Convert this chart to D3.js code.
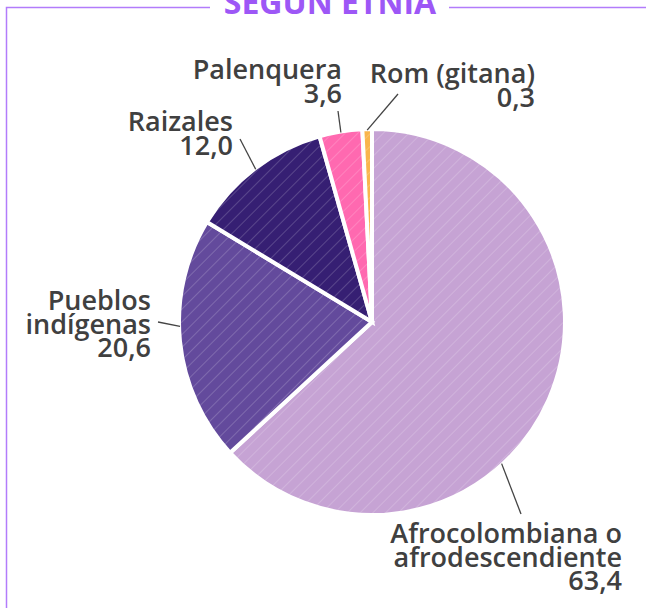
<!DOCTYPE html>
<html lang="es">
<head>
<meta charset="utf-8">
<script src="https://d3js.org/d3.v7.min.js"></script>
<style>
  html, body { margin: 0; padding: 0; background: #fff; }
  svg { display: block; }
  .lbl { font-family: "Open Sans", sans-serif; font-weight: 600; font-size: 27px; fill: #404040; }
  .title { font-family: "Open Sans", sans-serif; font-weight: 700; font-size: 32px; fill: #9d57f6; }
</style>
</head>
<body>
<svg width="646" height="608"></svg>
<script>
// data
var categories = ["Afrocolombiana o afrodescendiente", "Pueblos indígenas", "Raizales", "Palenquera", "Rom (gitana)"];
var values = [63.4, 20.6, 12.0, 3.6, 0.3];
var labelLines = [
  ["Afrocolombiana o", "afrodescendiente", "63,4"],
  ["Pueblos", "indígenas", "20,6"],
  ["Raizales", "12,0"],
  ["Palenquera", "3,6"],
  ["Rom (gitana)", "0,3"]
];
var colors = ["#c6a3d4", "#634a9c", "#361f73", "#ff69b0", "#f9b54c"];

// layout for labels: text anchor, leader end, where the leader meets the slice (0..1 of the slice)
var labelPos = [
  { x: 622, y: 543, lx: 521, ly: 514, t: 0.605 },
  { x: 151, y: 310, lx: 158, ly: 322, t: 0.56 },
  { x: 233, y: 131, lx: 240, ly: 139, t: 0.5 },
  { x: 342, y: 79,  lx: 338, ly: 111, t: 0.5 },
  { x: 535, y: 83,  lx: 398, ly: 94,  t: 0.5 }
];

var svg = d3.select("svg");
var cx = 372, cy = 322, radius = 193;
var minShare = 0.8; // keep tiny slices visible

// frame + title
var frameColor = "#b27cfb";
svg.append("path")
  .attr("d", "M6.5,608 L6.5,7.5 L210,7.5")
  .attr("fill", "none").attr("stroke", frameColor).attr("stroke-width", 1.5);
svg.append("path")
  .attr("d", "M449,7.5 L646,7.5")
  .attr("fill", "none").attr("stroke", frameColor).attr("stroke-width", 1.5);
svg.append("text")
  .attr("class", "title")
  .attr("x", 330).attr("y", 14)
  .attr("text-anchor", "middle")
  .text("SEGÚN ETNIA");

// hatch pattern
var defs = svg.append("defs");
defs.append("pattern")
  .attr("id", "hatch")
  .attr("patternUnits", "userSpaceOnUse")
  .attr("width", 9).attr("height", 9)
  .attr("patternTransform", "rotate(45)")
  .append("line")
  .attr("x1", 0).attr("y1", 0).attr("x2", 0).attr("y2", 9)
  .attr("stroke", "#fff").attr("stroke-opacity", 0.3).attr("stroke-width", 1.2);

var data = categories.map(function (c, i) { return { name: c, value: values[i], i: i }; });

var pie = d3.pie()
  .sort(null)
  .value(function (d) { return Math.max(d.value, minShare); });
var arcs = pie(data);

var arc = d3.arc().innerRadius(0).outerRadius(radius);

var g = svg.append("g").attr("transform", "translate(" + cx + "," + cy + ")");

var slices = g.selectAll(".slice")
  .data(arcs)
  .enter().append("g")
  .attr("class", "slice");

slices.append("path")
  .attr("d", arc)
  .attr("fill", function (d) { return colors[d.data.i]; });
slices.append("path")
  .attr("d", arc)
  .attr("fill", "url(#hatch)")
  .attr("stroke", "#fff")
  .attr("stroke-width", 4)
  .attr("stroke-linejoin", "miter");

// leader lines
g.selectAll(".leader")
  .data(arcs)
  .enter().append("line")
  .attr("class", "leader")
  .attr("x1", function (d) {
    var p = labelPos[d.data.i];
    var a = d.startAngle + (d.endAngle - d.startAngle) * p.t;
    return Math.sin(a) * (radius - 1);
  })
  .attr("y1", function (d) {
    var p = labelPos[d.data.i];
    var a = d.startAngle + (d.endAngle - d.startAngle) * p.t;
    return -Math.cos(a) * (radius - 1);
  })
  .attr("x2", function (d) { return labelPos[d.data.i].lx - cx; })
  .attr("y2", function (d) { return labelPos[d.data.i].ly - cy; })
  .attr("stroke", "#444")
  .attr("stroke-width", 1.3);

// labels
var labels = svg.selectAll(".lbl")
  .data(data)
  .enter().append("text")
  .attr("class", "lbl")
  .attr("text-anchor", "end")
  .attr("x", function (d) { return labelPos[d.i].x; })
  .attr("y", function (d) { return labelPos[d.i].y; });

labels.selectAll("tspan")
  .data(function (d) { return labelLines[d.i].map(function (s) { return { s: s, x: labelPos[d.i].x }; }); })
  .enter().append("tspan")
  .attr("x", function (d) { return d.x; })
  .attr("dy", function (d, j) { return j === 0 ? 0 : 23.5; })
  .text(function (d) { return d.s; });
</script>
</body>
</html>
